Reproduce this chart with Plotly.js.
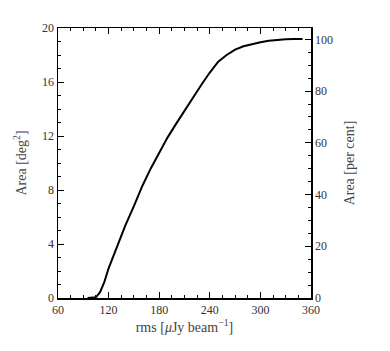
<!DOCTYPE html>
<html>
<head>
<meta charset="utf-8">
<script src="https://cdn.plot.ly/plotly-3.0.1.min.js"></script>
<style>
  html, body { margin: 0; padding: 0; background: #fff; }
  #plot { width: 390px; height: 351px; }
</style>
</head>
<body>
<div id="plot"></div>
<script>
// Cumulative area vs rms noise
let rms = [95, 100, 105, 110, 115, 120, 130, 140, 150, 160, 170, 180, 190, 200, 210, 220,
           230, 240, 250, 260, 265, 270, 280, 290, 300, 310, 320, 330, 340, 350];
let area = [0, 0, 0.05, 0.45, 1.2, 2.2, 3.8, 5.4, 6.8, 8.3, 9.6, 10.8, 11.9, 12.9, 13.9, 14.9,
            15.8, 16.7, 17.5, 18.0, 18.2, 18.4, 18.65, 18.82, 18.95, 19.05, 19.12, 19.16, 19.18, 19.18];
let areaTicks = [0, 4, 8, 12, 16, 20];
let percentTicks = [0, 20, 40, 60, 80, 100];
let rmsTicks = [60, 120, 180, 240, 300, 360];

let serif = "'Liberation Serif', 'DejaVu Serif', serif";
let font = { family: serif, size: 12, color: '#333' };
let titleFont = { family: serif, size: 14, color: '#444' };

let data = [{
    x: rms,
    y: area,
    mode: 'lines',
    line: { color: '#000', width: 2 },
    hoverinfo: 'none',
}, {
    // invisible trace so the right axis is drawn
    x: [rms[0]],
    y: [0],
    yaxis: 'y2',
    mode: 'lines',
    line: { width: 0 },
    hoverinfo: 'none',
}, {
    // invisible trace so the top ticks are drawn
    x: [rms[0]],
    y: [0],
    xaxis: 'x2',
    mode: 'lines',
    line: { width: 0 },
    hoverinfo: 'none',
}];

let tickStyle = {
    ticks: 'inside',
    ticklen: 6,
    tickwidth: 1,
    tickcolor: '#000',
    showline: true,
    linecolor: '#000',
    linewidth: 1.5,
    showgrid: false,
    zeroline: false,
    tickfont: font,
};

let layout = {
    width: 390,
    height: 351,
    margin: { l: 58, r: 79, t: 28, b: 53, pad: 0 },
    showlegend: false,
    paper_bgcolor: '#fff',
    plot_bgcolor: '#fff',
    font: font,
    xaxis: Object.assign({}, tickStyle, {
        range: [60, 360],
        tickvals: rmsTicks,
        minor: { dtick: 15, ticks: 'inside', ticklen: 3, tickcolor: '#000' },
        title: { text: 'rms [<i>μ</i>Jy beam<sup>−1</sup>]', font: titleFont, standoff: 6 },
    }),
    xaxis2: Object.assign({}, tickStyle, {
        overlaying: 'x',
        side: 'top',
        range: [60, 360],
        tickvals: rmsTicks,
        showticklabels: false,
        minor: { dtick: 15, ticks: 'inside', ticklen: 3, tickcolor: '#000' },
    }),
    yaxis: Object.assign({}, tickStyle, {
        range: [0, 20],
        tickvals: areaTicks,
        minor: { dtick: 1, ticks: 'inside', ticklen: 3, tickcolor: '#000' },
        title: { text: 'Area [deg<sup>2</sup>]', font: titleFont, standoff: 12 },
    }),
    yaxis2: Object.assign({}, tickStyle, {
        overlaying: 'y',
        side: 'right',
        range: [0, 104.4],
        tickvals: percentTicks,
        minor: { dtick: 5, ticks: 'inside', ticklen: 3, tickcolor: '#000' },
        title: { text: 'Area [per cent]', font: titleFont, standoff: 12 },
    }),
};

Plotly.newPlot('plot', data, layout, { staticPlot: true, displayModeBar: false });
</script>
</body>
</html>
